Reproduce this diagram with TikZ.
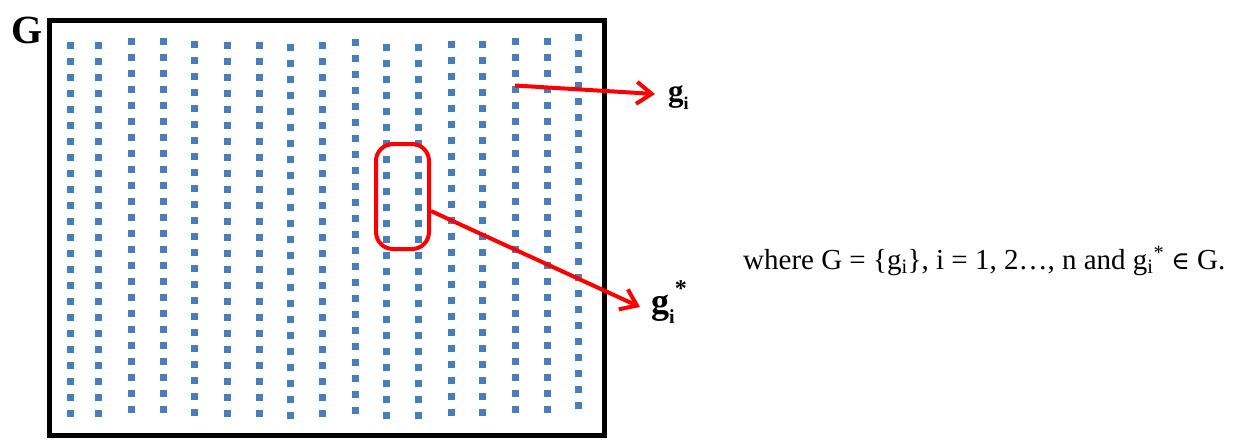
\documentclass[tikz,border=0pt]{standalone}
\usepackage{fontspec}
\setmainfont{Liberation Serif}
\newfontfamily\symbfont{DejaVu Serif}
\usetikzlibrary{arrows.meta}
\definecolor{dotblue}{HTML}{4A7EBB}
\definecolor{markred}{HTML}{FF0000}
\newcommand{\subidx}[2]{\raisebox{-#2pt}{\fontsize{#1}{#1}\selectfont i}}

\begin{document}
\begin{tikzpicture}[x=1pt, y=-1pt,
  gridpt/.style={fill=dotblue},
  pointer/.style={draw=markred, line width=4pt, -{Straight Barb[length=15pt, width=22pt]}},
  lbl/.style={inner sep=0pt, anchor=base west, font=\bfseries}]
  \useasboundingbox (0,0) rectangle (1233,440);
  % the set G: columns of points (x / first row)
  \foreach \cx/\cy in {70/45, 98/45, 131/41, 163/41, 194/44, 227/45, 259/45, 290/47,
      322/45, 355/42, 386/47, 418/47, 451/44, 482/44, 515/41, 547/41, 578/37}
    \foreach \r in {0,...,23}
      \fill[gridpt] (\cx-3.5, \cy+16*\r-3.5) rectangle ++(7,7);
  \draw[line width=5pt] (49.5,20.5) rectangle (604,435.5);
  \node[lbl, font=\fontsize{40}{40}\selectfont\bfseries] (setG) at (11,43) {G};
  % selected point
  \node[draw=markred, line width=4pt, rounded corners=17pt, inner sep=0pt,
    minimum width=53pt, minimum height=105pt] (sel) at (402.5,196.5) {};
  \node[lbl, font=\fontsize{31}{31}\selectfont\bfseries] (gi) at (668,101)
    {g\subidx{18}{8}};
  \node[lbl, font=\fontsize{36}{36}\selectfont\bfseries] (gstar) at (651,313)
    {g\subidx{20}{10}\raisebox{17pt}{\fontsize{24}{24}\selectfont *}};
  \coordinate (pA) at (515,85.5);
  \coordinate (tipA) at (655,94);
  \coordinate (tipB) at (640,307);
  \draw[pointer] (pA) -- (tipA);
  \draw[pointer] (sel.-27) -- (tipB);
  \node[inner sep=0pt, anchor=base west, font=\fontsize{29}{29}\selectfont] (def) at (743,269)
    {where G = \{g\textsubscript{i}\}, i = 1, 2…, n and g\textsubscript{i}\textsuperscript{*} {\symbfont\fontsize{25}{25}\selectfont ∈} G.};
\end{tikzpicture}
\end{document}
